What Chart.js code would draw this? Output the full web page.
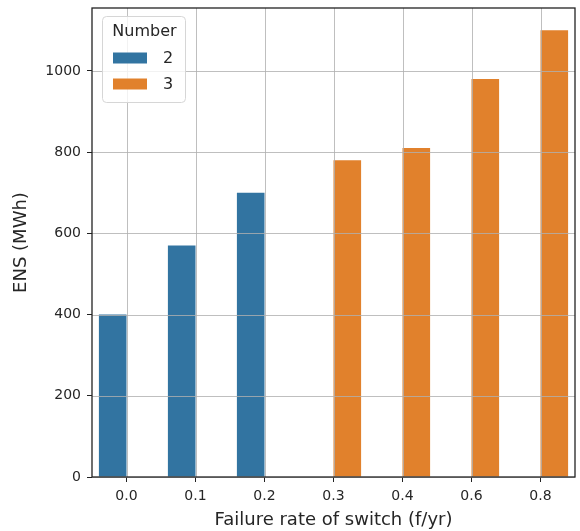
<!DOCTYPE html>
<html>
<head>
<meta charset="utf-8">
<script src="https://cdn.jsdelivr.net/npm/chart.js@4/dist/chart.umd.min.js"></script>
<style>
  html, body { margin: 0; padding: 0; background: #fff; }
  #wrap { width: 580px; height: 531px; }
</style>
</head>
<body>
<div id="wrap"><canvas id="c" width="580" height="531"></canvas></div>
<script>
const categories = ['0.0', '0.1', '0.2', '0.3', '0.4', '0.6', '0.8'];
const seriesNames = ['2', '3'];
const series2 = [400, 570, 700, null, null, null, null];
const series3 = [null, null, null, 780, 810, 980, 1100];
const yTicks = [0, 200, 400, 600, 800, 1000];
const colors = ['#3274a1', '#e1812c'];

const FONT = "'DejaVu Sans', sans-serif";

const frontGrid = {
  id: 'frontGrid',
  afterDatasetsDraw(chart) {
    const ctx = chart.ctx;
    const a = chart.chartArea;
    ctx.save();
    ctx.strokeStyle = 'rgba(176,176,176,0.9)';
    ctx.lineWidth = 0.9;
    chart.scales.x.ticks.forEach((t, i) => {
      const x = Math.round(chart.scales.x.getPixelForTick(i)) + 0.5;
      ctx.beginPath(); ctx.moveTo(x, a.top); ctx.lineTo(x, a.bottom); ctx.stroke();
    });
    chart.scales.y.ticks.forEach((t) => {
      const y = Math.round(chart.scales.y.getPixelForValue(t.value)) + 0.5;
      ctx.beginPath(); ctx.moveTo(a.left, y); ctx.lineTo(a.right, y); ctx.stroke();
    });
    ctx.strokeStyle = '#222';
    ctx.lineWidth = 1.3;
    ctx.strokeRect(a.left, a.top, a.right - a.left, a.bottom - a.top);
    ctx.restore();
  },
  afterDraw(chart) {
    const ctx = chart.ctx;
    const a = chart.chartArea;
    const x0 = a.left + 10, y0 = a.top + 8, w = 83, h = 86;
    ctx.save();
    ctx.fillStyle = 'rgba(255,255,255,0.8)';
    ctx.strokeStyle = '#d6d6d6';
    ctx.lineWidth = 1;
    ctx.beginPath();
    ctx.roundRect(x0 + 0.5, y0 + 0.5, w, h, 4);
    ctx.fill(); ctx.stroke();
    ctx.fillStyle = '#262626';
    ctx.font = '16px ' + FONT;
    ctx.textAlign = 'center';
    ctx.textBaseline = 'middle';
    ctx.fillText('Number', x0 + w / 2 + 1, y0 + 16);
    seriesNames.forEach((n, i) => {
      const yy = y0 + 42 + i * 26;
      ctx.fillStyle = colors[i];
      ctx.fillRect(x0 + 11, yy - 5.5, 34, 11);
      ctx.fillStyle = '#262626';
      ctx.textAlign = 'left';
      ctx.fillText(n, x0 + 61, yy + 1);
    });
    ctx.restore();
  }
};

new Chart(document.getElementById('c'), {
  type: 'bar',
  data: {
    labels: categories,
    datasets: [
      { label: seriesNames[0], data: series2, backgroundColor: colors[0], borderWidth: 0 },
      { label: seriesNames[1], data: series3, backgroundColor: colors[1], borderWidth: 0 }
    ]
  },
  options: {
    responsive: false,
    animation: false,
    devicePixelRatio: 1,
    categoryPercentage: 0.8,
    barPercentage: 1.0,
    layout: { padding: { top: 8, right: 5, left: 11, bottom: 0 } },
    plugins: { legend: { display: false }, tooltip: { enabled: false } },
    scales: {
      x: {
        grid: { display: true, offset: false, drawOnChartArea: false, drawTicks: true, tickLength: 5, tickColor: '#222' },
        border: { display: false },
        ticks: { color: '#262626', font: { family: FONT, size: 14 }, padding: 6, maxRotation: 0 },
        title: { display: true, text: 'Failure rate of switch (f/yr)', color: '#262626', font: { family: FONT, size: 18 }, padding: { top: 1, bottom: 0 } },
        afterFit(s) { s.height = 54; s.paddingLeft = 0; s.paddingRight = 0; }
      },
      y: {
        min: 0,
        max: 1155,
        grid: { display: true, drawOnChartArea: false, drawTicks: true, tickLength: 5, tickColor: '#222' },
        border: { display: false },
        afterBuildTicks(s) { s.ticks = yTicks.map(v => ({ value: v })); },
        ticks: { color: '#262626', font: { family: FONT, size: 14 }, padding: 6, callback: (v) => String(v) },
        title: { display: true, text: 'ENS (MWh)', color: '#262626', font: { family: FONT, size: 18 }, padding: { top: 0, bottom: 0 } },
        afterFit(s) { s.width = 81; s.paddingTop = 0; s.paddingBottom = 0; }
      }
    }
  },
  plugins: [frontGrid]
});
</script>
</body>
</html>
